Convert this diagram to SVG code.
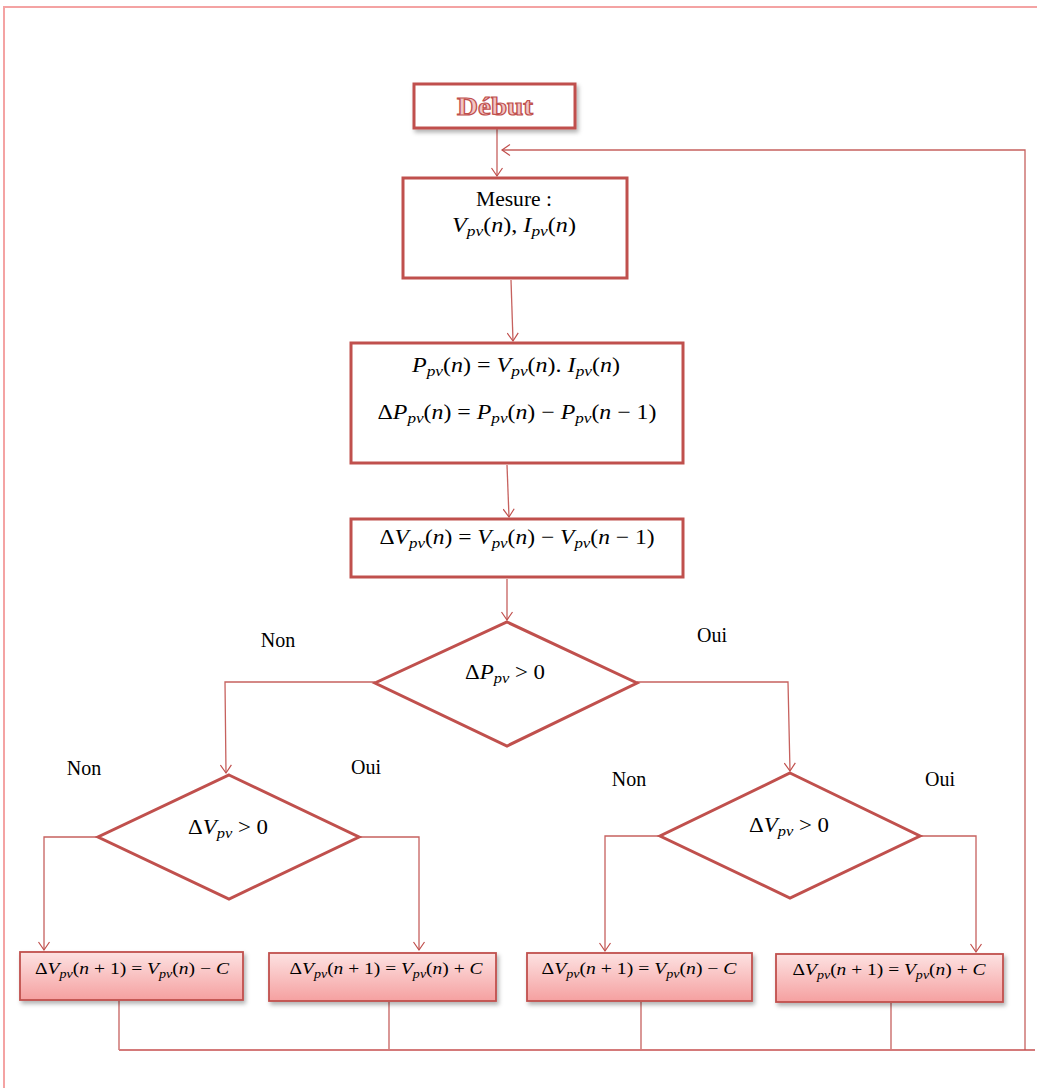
<svg xmlns="http://www.w3.org/2000/svg" width="1037" height="1088" viewBox="0 0 1037 1088">
<style>
.box{fill:#fff;stroke:#c0504d;stroke-width:3}
.dia{fill:#fff;stroke:#c0504d;stroke-width:3}
.pbox{fill:url(#pg);stroke:#c0504d;stroke-width:1.8}
.cn{fill:none;stroke:#c0504d;stroke-width:1.3;stroke-opacity:0.9}
.pg{fill:none;stroke:#f4a3a3;stroke-width:2}
.t{font-family:"Liberation Serif","Times New Roman",serif;font-size:20px;fill:#000}
.m{font-family:"Liberation Serif","Times New Roman",serif;font-size:21px;fill:#000}
.sm{font-family:"Liberation Serif","Times New Roman",serif;font-size:17px;fill:#000}
.i{font-style:italic}
.s{font-style:italic;font-size:0.72em}
.lbl{font-family:"Liberation Serif","Times New Roman",serif;font-size:20px;fill:#000}
</style>
<defs>
<linearGradient id="pg" x1="0" y1="0" x2="0" y2="1">
<stop offset="0" stop-color="#fde2e2"/>
<stop offset="1" stop-color="#f5a0a0"/>
</linearGradient>
<filter id="sh" x="-10%" y="-20%" width="130%" height="150%">
<feDropShadow dx="2" dy="3" stdDeviation="2" flood-color="#000" flood-opacity="0.3"/>
</filter>
<marker id="arr" markerWidth="12" markerHeight="12" refX="10" refY="6" orient="auto" markerUnits="userSpaceOnUse">
<path d="M2,0.5 L10,6 L2,11.5" fill="none" stroke="#c0504d" stroke-width="1.2"/>
</marker>
</defs>
<rect width="1037" height="1088" fill="#fff"/>
<g id="page">
<path class="pg" d="M4,1088 L4,7 L1037,7"/>
</g>
<g id="connectors">
<path class="cn" d="M497,129 L497,176" marker-end="url(#arr)"/>
<path class="cn" d="M511,280 L513,341" marker-end="url(#arr)"/>
<path class="cn" d="M507,465 L509,517" marker-end="url(#arr)"/>
<path class="cn" d="M507,579 L507,620" marker-end="url(#arr)"/>
<path class="cn" d="M375,682 L225,682 L226,773" marker-end="url(#arr)"/>
<path class="cn" d="M637,682 L788,682 L790,771" marker-end="url(#arr)"/>
<path class="cn" d="M98,837 L44,837 L44,950" marker-end="url(#arr)"/>
<path class="cn" d="M359,837 L419,837 L419,950" marker-end="url(#arr)"/>
<path class="cn" d="M660,836 L605,836 L605,951" marker-end="url(#arr)"/>
<path class="cn" d="M920,836 L976,836 L976,952" marker-end="url(#arr)"/>
<path class="cn" d="M119,1001 L119,1050"/>
<path class="cn" d="M389,1002 L389,1050"/>
<path class="cn" d="M641,1002 L641,1050"/>
<path class="cn" d="M891,1003 L891,1050"/>
<path d="M119,1050 L1035,1050" fill="none" stroke="#d47a7a" stroke-width="2"/>
<path class="cn" d="M1025,1050 L1025,150 L502,150" marker-end="url(#arr)"/>
</g>
<g id="debut">
<rect x="414" y="84" width="161" height="44" class="box" filter="url(#sh)"/>
<text x="495" y="115" text-anchor="middle" font-family="'Liberation Serif','Times New Roman',serif" font-size="26" font-weight="bold" fill="#f2c4c4" stroke="#c0504d" stroke-width="1.2" textLength="76" lengthAdjust="spacingAndGlyphs">Début</text>
</g>
<g id="mesure">
<rect x="403" y="178" width="224" height="100" class="box"/>
<text x="514" y="206" text-anchor="middle" class="t" textLength="76" lengthAdjust="spacingAndGlyphs">Mesure :</text>
<text x="514" y="232" text-anchor="middle" class="m" textLength="124" lengthAdjust="spacingAndGlyphs"><tspan class="i">V</tspan><tspan class="s" dy="4">pv</tspan><tspan dy="-4">(</tspan><tspan class="i">n</tspan>), <tspan class="i">I</tspan><tspan class="s" dy="4">pv</tspan><tspan dy="-4">(</tspan><tspan class="i">n</tspan>)</text>
</g>
<g id="puissance">
<rect x="351" y="343" width="332" height="120" class="box"/>
<text x="516" y="372" text-anchor="middle" class="m" textLength="208" lengthAdjust="spacingAndGlyphs"><tspan class="i">P</tspan><tspan class="s" dy="4">pv</tspan><tspan dy="-4">(</tspan><tspan class="i">n</tspan>) = <tspan class="i">V</tspan><tspan class="s" dy="4">pv</tspan><tspan dy="-4">(</tspan><tspan class="i">n</tspan>). <tspan class="i">I</tspan><tspan class="s" dy="4">pv</tspan><tspan dy="-4">(</tspan><tspan class="i">n</tspan>)</text>
<text x="517" y="419" text-anchor="middle" class="m" textLength="279" lengthAdjust="spacingAndGlyphs">Δ<tspan class="i">P</tspan><tspan class="s" dy="4">pv</tspan><tspan dy="-4">(</tspan><tspan class="i">n</tspan>) = <tspan class="i">P</tspan><tspan class="s" dy="4">pv</tspan><tspan dy="-4">(</tspan><tspan class="i">n</tspan>) − <tspan class="i">P</tspan><tspan class="s" dy="4">pv</tspan><tspan dy="-4">(</tspan><tspan class="i">n</tspan> − 1)</text>
</g>
<g id="tension">
<rect x="351" y="519" width="332" height="58" class="box"/>
<text x="517" y="544" text-anchor="middle" class="m" textLength="275" lengthAdjust="spacingAndGlyphs">Δ<tspan class="i">V</tspan><tspan class="s" dy="4">pv</tspan><tspan dy="-4">(</tspan><tspan class="i">n</tspan>) = <tspan class="i">V</tspan><tspan class="s" dy="4">pv</tspan><tspan dy="-4">(</tspan><tspan class="i">n</tspan>) − <tspan class="i">V</tspan><tspan class="s" dy="4">pv</tspan><tspan dy="-4">(</tspan><tspan class="i">n</tspan> − 1)</text>
</g>
<g id="test-dp">
<polygon points="507,622 637,683 507,746 375,683" class="dia"/>
<text x="505" y="679" text-anchor="middle" class="m" textLength="80" lengthAdjust="spacingAndGlyphs">Δ<tspan class="i">P</tspan><tspan class="s" dy="4">pv</tspan><tspan dy="-4"> &gt; 0</tspan></text>
<text x="278" y="647" text-anchor="middle" class="lbl">Non</text>
<text x="712" y="642" text-anchor="middle" class="lbl">Oui</text>
</g>
<g id="test-dv-gauche">
<polygon points="229,775 359,837 229,899 98,837" class="dia"/>
<text x="228" y="834" text-anchor="middle" class="m" textLength="80" lengthAdjust="spacingAndGlyphs">Δ<tspan class="i">V</tspan><tspan class="s" dy="4">pv</tspan><tspan dy="-4"> &gt; 0</tspan></text>
<text x="84" y="775" text-anchor="middle" class="lbl">Non</text>
<text x="366" y="774" text-anchor="middle" class="lbl">Oui</text>
</g>
<g id="test-dv-droite">
<polygon points="790,773 920,836 790,898 660,836" class="dia"/>
<text x="789" y="832" text-anchor="middle" class="m" textLength="80" lengthAdjust="spacingAndGlyphs">Δ<tspan class="i">V</tspan><tspan class="s" dy="4">pv</tspan><tspan dy="-4"> &gt; 0</tspan></text>
<text x="629" y="786" text-anchor="middle" class="lbl">Non</text>
<text x="940" y="786" text-anchor="middle" class="lbl">Oui</text>
</g>
<g id="maj-a">
<rect x="20" y="952" width="223" height="48" class="pbox" filter="url(#sh)"/>
<text x="132" y="974" text-anchor="middle" class="sm" textLength="194" lengthAdjust="spacingAndGlyphs">Δ<tspan class="i">V</tspan><tspan class="s" dy="4">pv</tspan><tspan dy="-4">(</tspan><tspan class="i">n</tspan> + 1) = <tspan class="i">V</tspan><tspan class="s" dy="4">pv</tspan><tspan dy="-4">(</tspan><tspan class="i">n</tspan>) − <tspan class="i">C</tspan></text>
</g>
<g id="maj-b">
<rect x="269" y="953" width="227" height="48" class="pbox" filter="url(#sh)"/>
<text x="386" y="974" text-anchor="middle" class="sm" textLength="193" lengthAdjust="spacingAndGlyphs">Δ<tspan class="i">V</tspan><tspan class="s" dy="4">pv</tspan><tspan dy="-4">(</tspan><tspan class="i">n</tspan> + 1) = <tspan class="i">V</tspan><tspan class="s" dy="4">pv</tspan><tspan dy="-4">(</tspan><tspan class="i">n</tspan>) + <tspan class="i">C</tspan></text>
</g>
<g id="maj-c">
<rect x="527" y="953" width="225" height="48" class="pbox" filter="url(#sh)"/>
<text x="639" y="974" text-anchor="middle" class="sm" textLength="195" lengthAdjust="spacingAndGlyphs">Δ<tspan class="i">V</tspan><tspan class="s" dy="4">pv</tspan><tspan dy="-4">(</tspan><tspan class="i">n</tspan> + 1) = <tspan class="i">V</tspan><tspan class="s" dy="4">pv</tspan><tspan dy="-4">(</tspan><tspan class="i">n</tspan>) − <tspan class="i">C</tspan></text>
</g>
<g id="maj-d">
<rect x="776" y="954" width="227" height="48" class="pbox" filter="url(#sh)"/>
<text x="889" y="975" text-anchor="middle" class="sm" textLength="193" lengthAdjust="spacingAndGlyphs">Δ<tspan class="i">V</tspan><tspan class="s" dy="4">pv</tspan><tspan dy="-4">(</tspan><tspan class="i">n</tspan> + 1) = <tspan class="i">V</tspan><tspan class="s" dy="4">pv</tspan><tspan dy="-4">(</tspan><tspan class="i">n</tspan>) + <tspan class="i">C</tspan></text>
</g>
</svg>
